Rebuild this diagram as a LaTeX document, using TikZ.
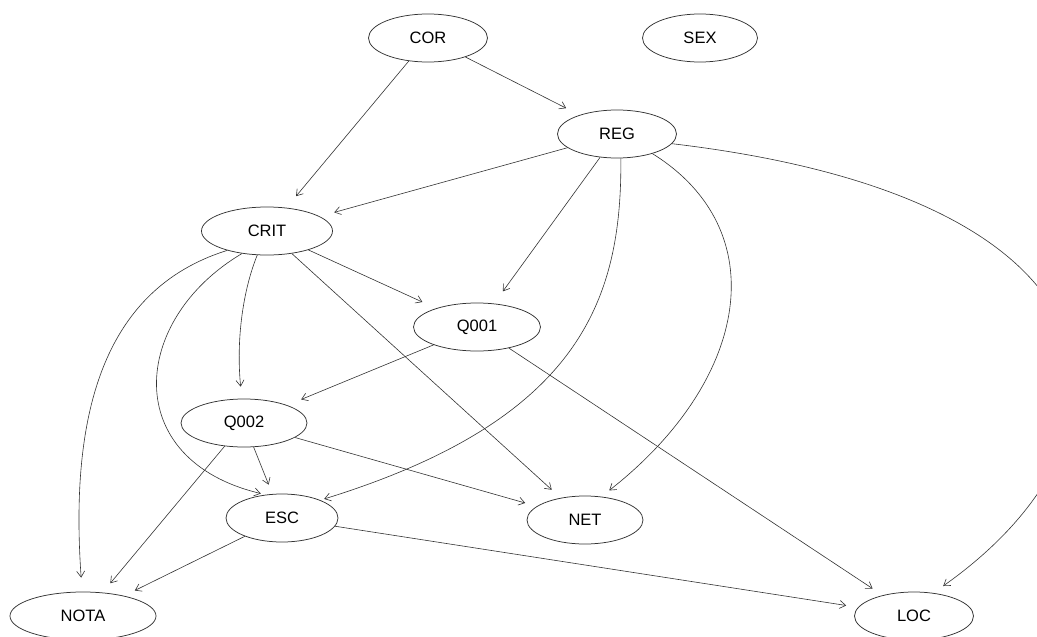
\documentclass[tikz,border=0pt]{standalone}
\usepackage{fontspec}
\setmainfont{Liberation Sans}
\usetikzlibrary{shapes.geometric,arrows.meta}

\tikzset{
  var/.style={draw=black!80, line width=0.75pt, ellipse, inner sep=0pt,
              minimum height=48pt, font=\fontsize{16.5}{18}\selectfont},
  edge/.style={draw=black!80, line width=0.6pt,
               -{Straight Barb[length=6pt,width=8pt,line width=0.6pt]}},
  gap/.style={shorten >=#1}
}

\begin{document}
\begin{tikzpicture}[x=1pt,y=-1pt]
  \useasboundingbox (0,0) rectangle (1037,637);
  \clip (0,0) rectangle (1037,637);

  % variables
  \node[var, minimum width=119pt] (COR)  at (428,38)  {COR};
  \node[var, minimum width=115pt] (SEX)  at (700,38)  {SEX};
  \node[var, minimum width=119pt] (REG)  at (617,134) {REG};
  \node[var, minimum width=131pt] (CRIT) at (267,231) {CRIT};
  \node[var, minimum width=127pt] (Q001) at (477,327) {Q001};
  \node[var, minimum width=126pt] (Q002) at (244,423) {Q002};
  \node[var, minimum width=112pt] (ESC)  at (282,518) {ESC};
  \node[var, minimum width=116pt] (NET)  at (585,520) {NET};
  \node[var, minimum width=146pt] (NOTA) at (83,616)  {NOTA};
  \node[var, minimum width=119pt] (LOC)  at (914,616) {LOC};

  % straight dependencies
  \draw[edge, gap=15pt] (COR)  -- (CRIT);
  \draw[edge, gap=15pt] (COR)  -- (REG);
  \draw[edge, gap=15pt] (REG)  -- (CRIT);
  \draw[edge, gap=15pt] (REG)  -- (Q001);
  \draw[edge, gap=15pt] (CRIT) -- (Q001);
  \draw[edge, gap=12pt] (CRIT) -- (NET);
  \draw[edge, gap=15pt] (Q001) -- (Q002);
  \draw[edge, gap=12pt] (Q001) -- (LOC);
  \draw[edge, gap=10pt] (Q002) -- (ESC);
  \draw[edge, gap=12pt] (Q002) -- (NET);
  \draw[edge, gap=12pt] (Q002) -- (NOTA);
  \draw[edge, gap=12pt] (ESC)  -- (NOTA);
  \draw[edge, gap=12pt] (ESC)  -- (LOC);

  % curved dependencies
  \draw[edge, gap=12pt] (CRIT.248) .. controls (243,290) and (236,340) .. (Q002.95);
  \draw[edge, gap=14pt] (CRIT.206) .. controls (100,290) and (70,420) .. (NOTA.92);
  \draw[edge, gap=5pt]  (CRIT.222) .. controls (130,320) and (120,460) .. (ESC.125);
  \draw[edge, gap=4pt]  (REG.279)  .. controls (622,300) and (580,420) .. (ESC.25);
  \draw[edge, gap=10pt] (REG.331)  .. controls (775,230) and (750,380) .. (NET.55);
  \draw[edge, gap=12pt] (REG.350)  .. controls (1150,200) and (1150,440) .. (LOC.50);
\end{tikzpicture}
\end{document}
